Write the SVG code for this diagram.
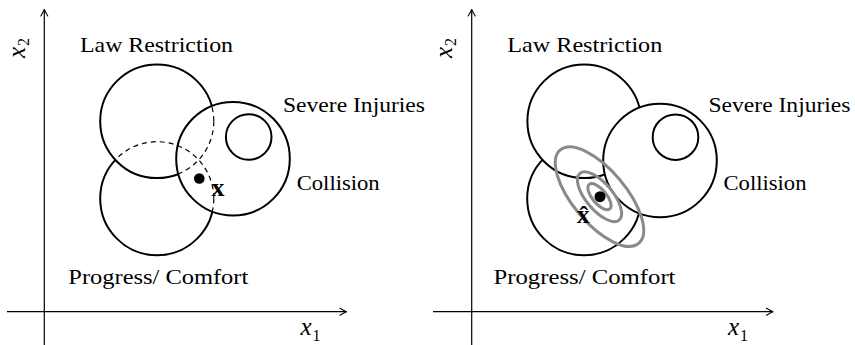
<svg xmlns="http://www.w3.org/2000/svg" width="855" height="345" viewBox="0 0 855 345">
<style>
.c{fill:none;stroke:#000;stroke-width:2}
.cf{fill:#fff;stroke:#000;stroke-width:2}
.d{fill:none;stroke:#000;stroke-width:1.2;stroke-dasharray:5 4}
.ax{fill:none;stroke:#000;stroke-width:1.2}
.ah{fill:none;stroke:#000;stroke-width:1.1;stroke-linecap:round;stroke-linejoin:round}
.e{fill:none;stroke:#8a8a8a;stroke-width:3}
.t{font-family:"Liberation Serif","DejaVu Serif",serif;font-size:21.5px;fill:#000}
</style>
<defs>
<mask id="outC" maskUnits="userSpaceOnUse" x="0" y="0" width="855" height="345">
<rect width="855" height="345" fill="#fff"/>
<circle cx="233" cy="158.7" r="56.8" fill="#000"/>
</mask>
<mask id="inC" maskUnits="userSpaceOnUse" x="0" y="0" width="855" height="345">
<circle cx="233" cy="158.7" r="56.8" fill="#fff"/>
</mask>
<mask id="outLC" maskUnits="userSpaceOnUse" x="0" y="0" width="855" height="345">
<rect width="855" height="345" fill="#fff"/>
<circle cx="233" cy="158.7" r="56.8" fill="#000"/>
<circle cx="157" cy="121.3" r="56.8" fill="#000"/>
</mask>
<mask id="inLC" maskUnits="userSpaceOnUse" x="0" y="0" width="855" height="345">
<circle cx="233" cy="158.7" r="56.8" fill="#fff"/>
<circle cx="157" cy="121.3" r="56.8" fill="#fff"/>
</mask>
</defs>

<g id="connectors">
<line class="ax" x1="44.3" y1="345" x2="44.3" y2="9.5"/>
<path class="ah" d="M40.8 16 Q43.5 11.5 44.3 9.5 Q45.1 11.5 47.8 16"/>
<line class="ax" x1="7" y1="311.7" x2="346.5" y2="311.7"/>
<path class="ah" d="M340 308.2 Q344.5 310.9 346.5 311.7 Q344.5 312.5 340 315.2"/>
<line class="ax" x1="471.7" y1="345" x2="471.7" y2="9.5"/>
<path class="ah" d="M468.2 16 Q470.9 11.5 471.7 9.5 Q472.5 11.5 475.2 16"/>
<line class="ax" x1="433" y1="311.7" x2="773" y2="311.7"/>
<path class="ah" d="M766.5 308.2 Q771 310.9 773 311.7 Q771 312.5 766.5 315.2"/>
</g>

<g id="left-panel">
<g id="L-progress">
<circle class="c" cx="157" cy="198.5" r="56.8" mask="url(#outLC)"/>
<circle class="d" cx="157" cy="198.5" r="56.8" mask="url(#inLC)"/>
</g>
<g id="L-law">
<circle class="c" cx="157" cy="121.3" r="56.8" mask="url(#outC)"/>
<circle class="d" cx="157" cy="121.3" r="56.8" mask="url(#inC)"/>
</g>
<g id="L-collision"><circle class="c" cx="233" cy="158.7" r="56.8"/></g>
<g id="L-severe"><circle class="c" cx="248.7" cy="137" r="22.8"/></g>
<g id="L-point">
<circle cx="199.3" cy="178.5" r="5.3" fill="#000"/>
<text font-family="Liberation Serif, serif" font-weight="bold" font-size="26" x="218" y="196" text-anchor="middle">x</text>
</g>
<text class="t" x="80" y="52" textLength="153" lengthAdjust="spacingAndGlyphs">Law Restriction</text>
<text class="t" x="283" y="111.7" textLength="142" lengthAdjust="spacingAndGlyphs">Severe Injuries</text>
<text class="t" x="296.7" y="189.5" textLength="83" lengthAdjust="spacingAndGlyphs">Collision</text>
<text class="t" x="68.3" y="284" textLength="180" lengthAdjust="spacingAndGlyphs">Progress/ Comfort</text>
<text class="t" transform="translate(25,58) rotate(-90)"><tspan font-style="italic" font-size="25">x</tspan><tspan font-size="16" dx="1" dy="4">2</tspan></text>
<text class="t" x="300.5" y="335"><tspan font-style="italic" font-size="25">x</tspan><tspan font-size="16" dx="1" dy="6">1</tspan></text>
</g>

<g id="right-panel">
<g id="R-progress"><circle class="cf" cx="584" cy="198.5" r="56.8"/></g>
<g id="R-law"><circle class="cf" cx="584.2" cy="121.3" r="56.8"/></g>
<g id="R-collision"><circle class="cf" cx="660" cy="160.5" r="56.8"/></g>
<g id="R-severe"><circle class="c" cx="675.5" cy="137.2" r="22.8"/></g>
<g id="R-ellipses">
<ellipse class="e" cx="599.5" cy="196.7" rx="61" ry="26.5" transform="rotate(50 599.5 196.7)"/>
<ellipse class="e" cx="599.5" cy="196.7" rx="30.5" ry="13.3" transform="rotate(50 599.5 196.7)"/>
<ellipse class="e" cx="599.5" cy="196.7" rx="16" ry="7" transform="rotate(50 599.5 196.7)"/>
</g>
<g id="R-point">
<circle cx="600" cy="196.7" r="5.5" fill="#000"/>
<text font-family="Liberation Serif, serif" font-weight="bold" font-size="26" x="583.3" y="223" text-anchor="middle">x̂</text>
</g>
<text class="t" x="507.3" y="52" textLength="155" lengthAdjust="spacingAndGlyphs">Law Restriction</text>
<text class="t" x="708.5" y="111.7" textLength="142" lengthAdjust="spacingAndGlyphs">Severe Injuries</text>
<text class="t" x="723.5" y="190" textLength="83" lengthAdjust="spacingAndGlyphs">Collision</text>
<text class="t" x="493.5" y="283.5" textLength="182" lengthAdjust="spacingAndGlyphs">Progress/ Comfort</text>
<text class="t" transform="translate(452,58) rotate(-90)"><tspan font-style="italic" font-size="25">x</tspan><tspan font-size="16" dx="1" dy="4">2</tspan></text>
<text class="t" x="728" y="335"><tspan font-style="italic" font-size="25">x</tspan><tspan font-size="16" dx="1" dy="6">1</tspan></text>
</g>
</svg>
